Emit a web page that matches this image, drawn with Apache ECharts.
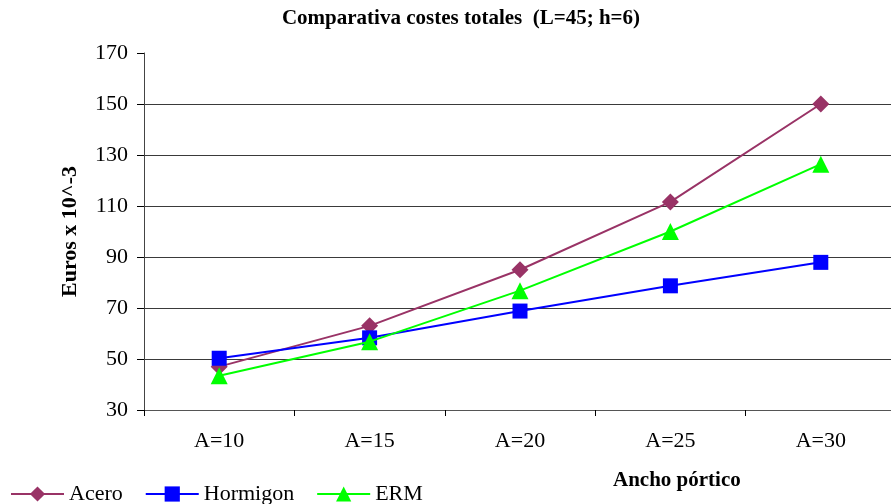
<!DOCTYPE html>
<html>
<head>
<meta charset="utf-8">
<script src="https://cdn.jsdelivr.net/npm/echarts@6/dist/echarts.min.js"></script>
<style>
  html, body { margin: 0; padding: 0; background: #fff; }
  #chart { width: 891px; height: 504px; }
</style>
</head>
<body>
<div id="chart"></div>
<script>
// Bay width categories (A = ancho del pórtico)
const categories = ['A=10', 'A=15', 'A=20', 'A=25', 'A=30'];

// Total cost per structural solution, in thousands of euros
const acero    = [47, 63, 85, 111.6, 150];
const hormigon = [50.3, 58.3, 68.8, 78.7, 87.9];
const erm      = [43.4, 56.8, 76.8, 100, 126.4];

// Value axis ticks
const yMin = 30, yMax = 170, yStep = 20;

const FONT = '"Liberation Serif", "Times New Roman", serif';

const chart = echarts.init(document.getElementById('chart'), null, { renderer: 'canvas' });

// One split line per tick (30..170); the top one is left out
const nLines = (yMax - yMin) / yStep + 1;
const splitColors = [];
for (let i = 0; i < nLines; i++) splitColors.push(i === nLines - 1 ? 'rgba(0,0,0,0)' : '#3a3a3a');

chart.setOption({
  animation: false,
  backgroundColor: '#fff',
  textStyle: { fontFamily: FONT, color: '#000' },
  title: {
    text: 'Comparativa costes totales  (L=45; h=6)',
    left: 456,
    top: 3,
    textAlign: 'center',
    textStyle: { fontFamily: FONT, fontWeight: 'bold', fontSize: 21, color: '#000' }
  },
  // plot area runs slightly past the right edge of the canvas
  grid: { left: 144, top: 53, width: 752, height: 357, containLabel: false, outerBoundsMode: 'none' },
  legend: {
    left: 5,
    top: 478,
    itemWidth: 53,
    itemHeight: 19,
    itemGap: 22,
    textStyle: { fontFamily: FONT, fontSize: 22, color: '#000' },
    data: ['Acero', 'Hormigon', 'ERM']
  },
  xAxis: {
    type: 'category',
    data: categories,
    boundaryGap: true,
    axisLine: { lineStyle: { color: '#555', width: 1 } },
    axisTick: { show: true, length: 6, interval: 0, lineStyle: { color: '#000' } },
    axisLabel: { fontFamily: FONT, fontSize: 22, color: '#000', margin: 20 },
    splitLine: { show: false }
  },
  yAxis: {
    type: 'value',
    min: yMin,
    max: yMax,
    interval: yStep,
    name: 'Euros x 10^-3',
    nameLocation: 'middle',
    nameGap: 63,
    nameRotate: 90,
    nameTextStyle: { fontFamily: FONT, fontWeight: 'bold', fontSize: 22, color: '#000' },
    axisLine: { show: true, lineStyle: { color: '#444', width: 1 } },
    axisTick: { show: true, length: 7, lineStyle: { color: '#000' } },
    axisLabel: { fontFamily: FONT, fontSize: 22, color: '#000', margin: 16 },
    splitLine: { show: true, lineStyle: { color: splitColors, width: 1 } }
  },
  graphic: [{
    type: 'text',
    left: 613,
    top: 470,
    style: {
      text: 'Ancho pórtico',
      fontFamily: FONT,
      fontWeight: 'bold',
      fontSize: 21,
      fill: '#000',
      textAlign: 'center'
    }
  }],
  series: [
    {
      name: 'Acero',
      type: 'line',
      data: acero,
      symbol: 'diamond',
      symbolSize: 17,
      lineStyle: { color: '#993366', width: 2 },
      itemStyle: { color: '#993366' },
      z: 2
    },
    {
      name: 'Hormigon',
      type: 'line',
      data: hormigon,
      symbol: 'rect',
      symbolSize: 15,
      lineStyle: { color: '#0000ff', width: 2 },
      itemStyle: { color: '#0000ff' },
      z: 3
    },
    {
      name: 'ERM',
      type: 'line',
      data: erm,
      symbol: 'triangle',
      symbolSize: 17,
      lineStyle: { color: '#00ff00', width: 2 },
      itemStyle: { color: '#00ff00' },
      z: 4
    }
  ]
});
</script>
</body>
</html>
